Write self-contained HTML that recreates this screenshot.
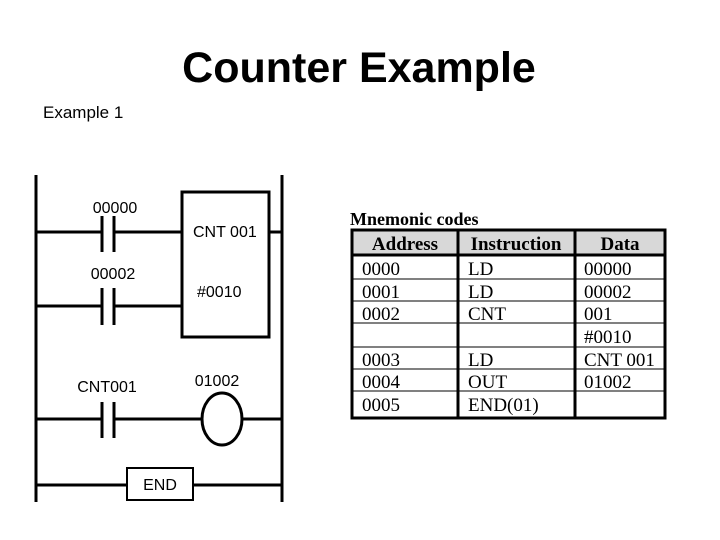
<!DOCTYPE html>
<html><head><meta charset="utf-8"><style>
html,body{margin:0;padding:0;background:#fff;}
svg{display:block;}
</style></head><body>
<svg width="720" height="540" viewBox="0 0 720 540" xmlns="http://www.w3.org/2000/svg">
<rect width="720" height="540" fill="#fff"/>
<text x="359" y="82" text-anchor="middle" font-family="Liberation Sans, sans-serif" font-weight="bold" font-size="43" fill="#000">Counter Example</text>
<text x="43" y="118" font-family="Liberation Sans, sans-serif" font-size="17" fill="#000">Example 1</text>
<g stroke="#000" stroke-width="3" fill="none">
<line x1="36" y1="175" x2="36" y2="502"/>
<line x1="282" y1="175" x2="282" y2="502"/>
<line x1="36" y1="232" x2="102" y2="232"/>
<line x1="114" y1="232" x2="182" y2="232"/>
<line x1="102" y1="216" x2="102" y2="252"/>
<line x1="114" y1="216" x2="114" y2="252"/>
<rect x="182" y="192" width="87" height="145"/>
<line x1="269" y1="232" x2="282" y2="232"/>
<line x1="36" y1="306" x2="102" y2="306"/>
<line x1="114" y1="306" x2="182" y2="306"/>
<line x1="102" y1="288" x2="102" y2="325"/>
<line x1="114" y1="288" x2="114" y2="325"/>
<line x1="36" y1="419" x2="102" y2="419"/>
<line x1="114" y1="419" x2="202" y2="419"/>
<line x1="102" y1="402" x2="102" y2="438"/>
<line x1="114" y1="402" x2="114" y2="438"/>
<ellipse cx="222" cy="419" rx="20" ry="26"/>
<line x1="242" y1="419" x2="282" y2="419"/>
<line x1="36" y1="485" x2="127" y2="485"/>
<rect x="127" y="468" width="66" height="32" stroke-width="2"/>
<line x1="193" y1="485" x2="282" y2="485"/>
</g>
<g font-family="Liberation Sans, sans-serif" font-size="16" fill="#000">
<text x="115" y="213" text-anchor="middle">00000</text>
<text x="113" y="279" text-anchor="middle">00002</text>
<text x="193" y="237">CNT 001</text>
<text x="197" y="297">#0010</text>
<text x="107" y="392" text-anchor="middle">CNT001</text>
<text x="217" y="386" text-anchor="middle">01002</text>
<text x="160" y="490" text-anchor="middle">END</text>
</g>
<text x="350" y="225" font-family="Liberation Serif, serif" font-weight="bold" font-size="18" fill="#000">Mnemonic codes</text>
<rect x="352" y="230" width="313" height="25" fill="#d8d8d8"/>
<g stroke="#000" fill="none">
<line x1="352" y1="279" x2="665" y2="279" stroke-width="1"/>
<line x1="352" y1="301" x2="665" y2="301" stroke-width="1"/>
<line x1="352" y1="323" x2="665" y2="323" stroke-width="1"/>
<line x1="352" y1="347" x2="665" y2="347" stroke-width="1"/>
<line x1="352" y1="369" x2="665" y2="369" stroke-width="1"/>
<line x1="352" y1="391" x2="665" y2="391" stroke-width="1"/>
<line x1="352" y1="255" x2="665" y2="255" stroke-width="3"/>
<line x1="458" y1="229" x2="458" y2="419" stroke-width="3"/>
<line x1="575" y1="229" x2="575" y2="419" stroke-width="3"/>
<rect x="352" y="230" width="313" height="188" stroke-width="3"/>
</g>
<g font-family="Liberation Serif, serif" font-size="19" fill="#000">
<text x="405" y="250" text-anchor="middle" font-weight="bold">Address</text>
<text x="516" y="250" text-anchor="middle" font-weight="bold">Instruction</text>
<text x="620" y="250" text-anchor="middle" font-weight="bold">Data</text>
<text x="362" y="275">0000</text><text x="468" y="275">LD</text><text x="584" y="275">00000</text>
<text x="362" y="298">0001</text><text x="468" y="298">LD</text><text x="584" y="298">00002</text>
<text x="362" y="320">0002</text><text x="468" y="320">CNT</text><text x="584" y="320">001</text>
<text x="584" y="343">#0010</text>
<text x="362" y="366">0003</text><text x="468" y="366">LD</text><text x="584" y="366">CNT 001</text>
<text x="362" y="388">0004</text><text x="468" y="388">OUT</text><text x="584" y="388">01002</text>
<text x="362" y="411">0005</text><text x="468" y="411">END(01)</text>
</g>
</svg>
</body></html>
